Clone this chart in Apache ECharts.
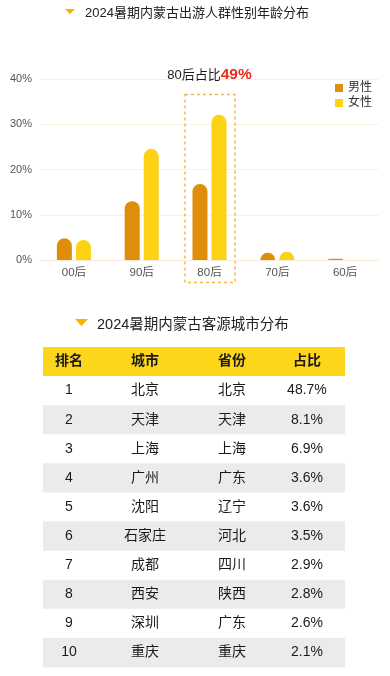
<!DOCTYPE html>
<html>
<head>
<meta charset="utf-8">
<script src="https://cdn.jsdelivr.net/npm/echarts@6/dist/echarts.min.js"></script>
<style>
  html, body { margin: 0; padding: 0; background: #fff; }
  #main { width: 390px; height: 676px; }
</style>
</head>
<body>
<div id="main"></div>
<script>
// chart data
var ageGroups = ['00后', '90后', '80后', '70后', '60后'];
var maleShare = [4.8, 13.0, 16.8, 1.6, 0.3];
var femaleShare = [4.4, 24.6, 32.1, 1.8, 0];
var yTicks = [0, 10, 20, 30, 40];
var highlightGroup = '80后';

// table data
var tableHeader = ['排名', '城市', '省份', '占比'];
var ranks = ['1', '2', '3', '4', '5', '6', '7', '8', '9', '10'];
var cities = ['北京', '天津', '上海', '广州', '沈阳', '石家庄', '成都', '西安', '深圳', '重庆'];
var provinces = ['北京', '天津', '上海', '广东', '辽宁', '河北', '四川', '陕西', '广东', '重庆'];
var shares = ['48.7%', '8.1%', '6.9%', '3.6%', '3.6%', '3.5%', '2.9%', '2.8%', '2.6%', '2.1%'];

var FONT = "'Liberation Sans', 'Noto Sans CJK SC', sans-serif";
var colPos = [0.086, 0.338, 0.626, 0.874];

var tableRows = [tableHeader];
for (var i = 0; i < ranks.length; i++) {
    tableRows.push([ranks[i], cities[i], provinces[i], shares[i]]);
}

var hiIdx = ageGroups.indexOf(highlightGroup);
var hiTotal = Math.round(maleShare[hiIdx] + femaleShare[hiIdx]);

var myChart = echarts.init(document.getElementById('main'));
myChart.setOption({
    backgroundColor: '#fff',
    textStyle: { fontFamily: FONT },
    title: [
        {
            text: '2024暑期内蒙古出游人群性别年龄分布',
            left: 80, top: 2,
            textStyle: { fontSize: 13, fontWeight: 'normal', color: '#222', fontFamily: FONT }
        },
        {
            text: '2024暑期内蒙古客源城市分布',
            left: 92, top: 313,
            textStyle: { fontSize: 14.5, fontWeight: 'normal', color: '#222', fontFamily: FONT }
        }
    ],
    legend: {
        data: ['男性', '女性'],
        orient: 'vertical',
        left: 330, top: 77,
        itemWidth: 8, itemHeight: 8,
        itemGap: 3,
        icon: 'rect',
        textStyle: { fontSize: 12, color: '#333', fontFamily: FONT }
    },
    grid: [
        { left: 40, right: 11, top: 79, bottom: 416, outerBoundsMode: 'none' },
        { left: 43, right: 45, top: 347, height: 320, outerBoundsMode: 'none' }
    ],
    xAxis: [
        {
            type: 'category',
            gridIndex: 0,
            data: ageGroups,
            axisLine: { lineStyle: { color: '#FAEAD8' } },
            axisTick: { show: false },
            axisLabel: { fontSize: 11.5, color: '#555', margin: 7, fontFamily: FONT }
        },
        { type: 'value', gridIndex: 1, min: 0, max: 1, show: false }
    ],
    yAxis: [
        {
            type: 'value',
            gridIndex: 0,
            min: yTicks[0], max: yTicks[yTicks.length - 1], interval: 10,
            axisLine: { show: false },
            axisTick: { show: false },
            splitLine: { lineStyle: { color: '#FCF0E3' } },
            axisLabel: { fontSize: 11, color: '#555', margin: 8, formatter: '{value}%', fontFamily: FONT }
        },
        {
            type: 'category',
            gridIndex: 1,
            data: tableRows.map(function (r, i) { return String(i); }),
            inverse: true,
            show: false
        }
    ],
    series: [
        {
            name: '男性', type: 'bar',
            xAxisIndex: 0, yAxisIndex: 0,
            data: maleShare,
            barWidth: 15, barGap: '27%',
            itemStyle: { color: '#E08E0A', borderRadius: [7.5, 7.5, 0, 0] }
        },
        {
            name: '女性', type: 'bar',
            xAxisIndex: 0, yAxisIndex: 0,
            data: femaleShare,
            barWidth: 15,
            itemStyle: { color: '#FDD215', borderRadius: [7.5, 7.5, 0, 0] }
        },
        {
            type: 'custom',
            xAxisIndex: 1, yAxisIndex: 1,
            silent: true,
            data: tableRows.map(function (r, i) { return [0, i]; }),
            renderItem: function (params, api) {
                var idx = api.value(1);
                var c = api.coord([0, idx]);
                var h = api.size([0, 1])[1];
                var cs = params.coordSys;
                var row = tableRows[idx];
                var fill = idx === 0 ? '#FDD51B' : (idx % 2 === 0 ? '#EBEBEB' : '#fff');
                var kids = [{
                    type: 'rect',
                    shape: { x: cs.x, y: c[1] - h / 2, width: cs.width, height: h + 0.5 },
                    style: { fill: fill }
                }];
                for (var k = 0; k < row.length; k++) {
                    kids.push({
                        type: 'text',
                        x: cs.x + colPos[k] * cs.width,
                        y: c[1],
                        style: {
                            text: row[k],
                            align: 'center', verticalAlign: 'middle',
                            fontSize: 14,
                            fontWeight: idx === 0 ? 'bold' : 'normal',
                            fill: '#1a1a1a',
                            fontFamily: FONT
                        }
                    });
                }
                return { type: 'group', children: kids };
            }
        }
    ]
});

// decorations: title markers, highlight box and note
var hx = myChart.convertToPixel({ xAxisIndex: 0 }, highlightGroup);
myChart.setOption({
    graphic: [
        {
            type: 'polygon',
            shape: { points: [[65, 9], [75, 9], [70, 14]] },
            style: { fill: '#F5B400' }
        },
        {
            type: 'polygon',
            shape: { points: [[75, 319], [88, 319], [81.5, 326]] },
            style: { fill: '#F5B400' }
        },
        {
            type: 'rect',
            shape: { x: hx - 24.5, y: 94.5, width: 50, height: 188 },
            style: { fill: 'none', stroke: '#F6B845', lineWidth: 1.5, lineDash: [3, 3] }
        },
        {
            type: 'text',
            x: hx, y: 75,
            style: {
                text: '{a|' + highlightGroup + '占比}{b|' + hiTotal + '%}',
                align: 'center', verticalAlign: 'middle',
                rich: {
                    a: { fontSize: 13, fill: '#1a1a1a', fontFamily: FONT },
                    b: { fontSize: 15.5, fontWeight: 'bold', fill: '#EE2A1B', fontFamily: FONT }
                }
            }
        }
    ]
});
</script>
</body>
</html>
